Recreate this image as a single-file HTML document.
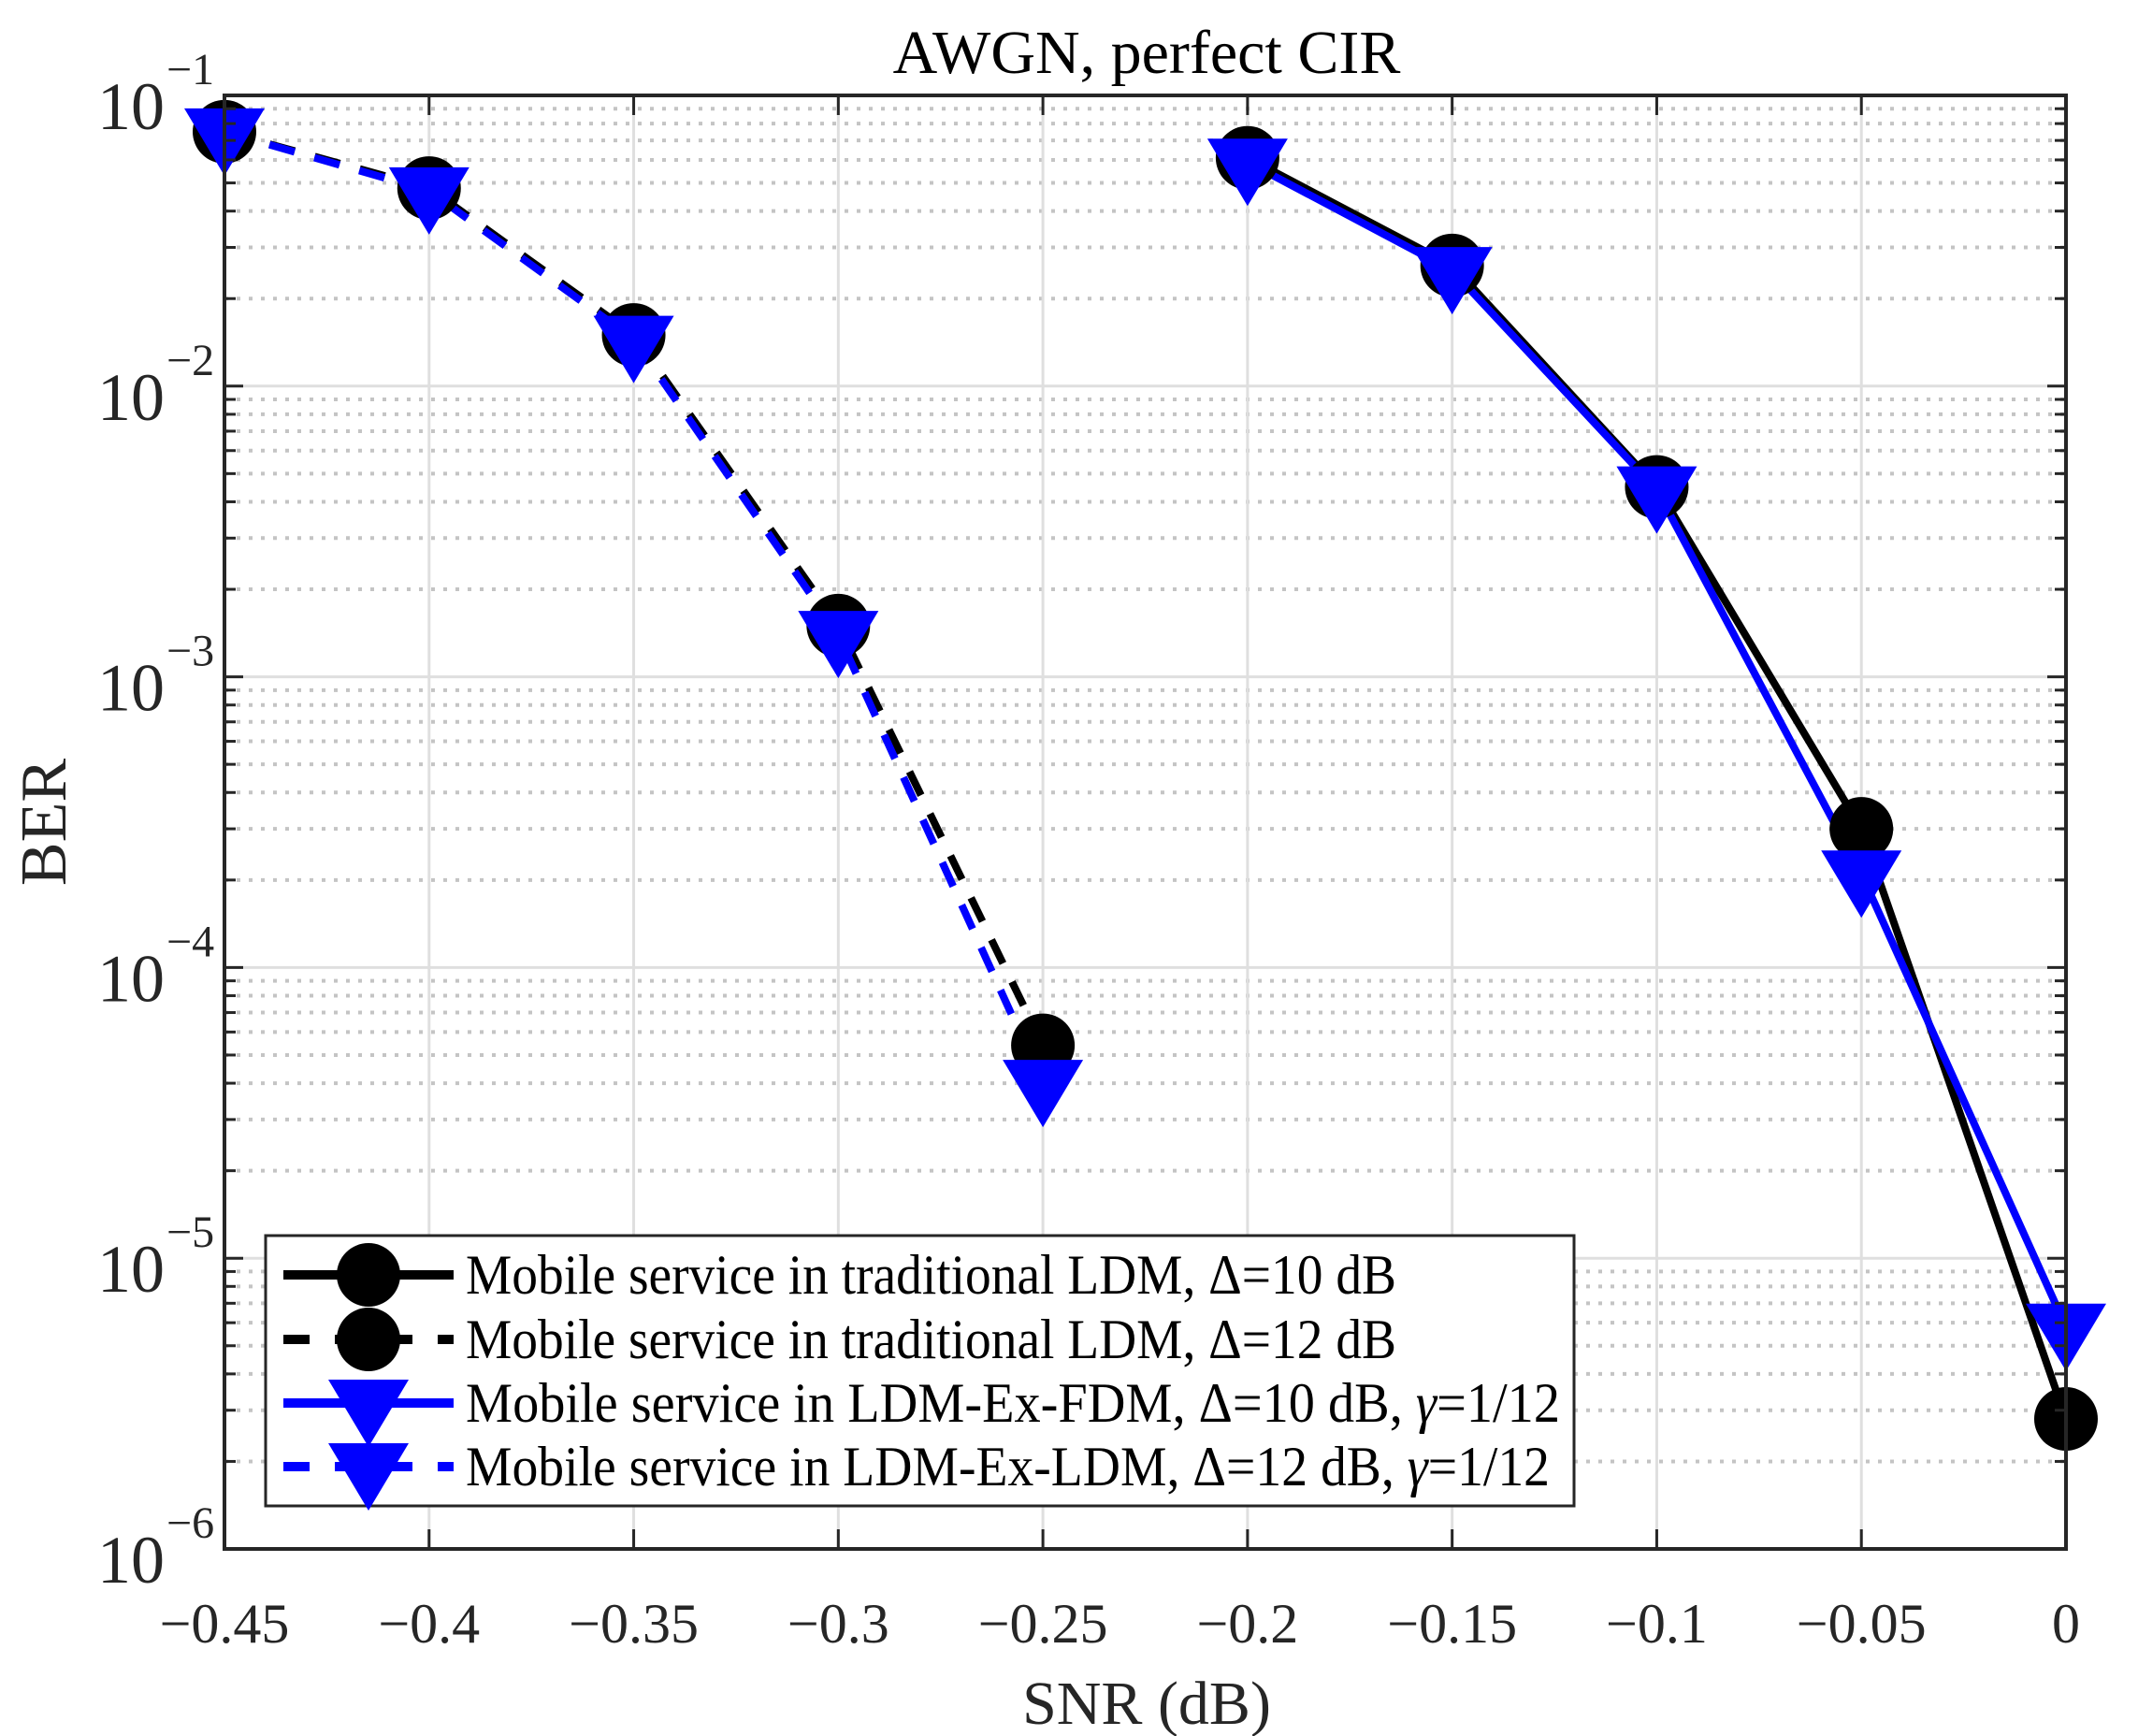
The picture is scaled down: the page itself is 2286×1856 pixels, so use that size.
<!DOCTYPE html>
<html><head><meta charset="utf-8"><style>
html,body{margin:0;padding:0;background:#fff;}
svg{display:block;font-family:"Liberation Serif",serif;}
</style></head><body>
<svg id="s" width="2286" height="1856" viewBox="0 0 2286 1856" xmlns="http://www.w3.org/2000/svg">
<rect width="2286" height="1856" fill="#fff"/>
<g id="grid"></g>
<g id="data"></g>
<g id="axes"></g>
<text x="1226" y="78" font-size="66" text-anchor="middle" fill="#000">AWGN, perfect CIR</text>
<text x="1226" y="1843" font-size="66" text-anchor="middle" fill="#262626">SNR (dB)</text>
<text transform="translate(70,879) rotate(-90)" font-size="70" text-anchor="middle" fill="#262626">BER</text>
<g id="legend">
<rect x="284" y="1321" width="1399" height="289" fill="#fff" stroke="#262626" stroke-width="3"/>
</g>
</svg>
<script>
const NS="http://www.w3.org/2000/svg";
const L=240,R=2209,T=102,B=1656,DEC=310.8,XS=(R-L)/9;
function el(p,t,a,txt){const e=document.createElementNS(NS,t);for(const k in a)e.setAttribute(k,a[k]);if(txt!==undefined)e.textContent=txt;p.appendChild(e);return e;}
const X=v=>L+(v+0.45)/0.05*XS;
const Y=v=>T-DEC*(1+Math.log10(v));
const g=document.getElementById('grid'),d=document.getElementById('data'),ax=document.getElementById('axes'),lg=document.getElementById('legend');
for(let k=-6;k<-1;k++){for(let m=2;m<=9;m++){const y=Y(m*Math.pow(10,k));
el(g,'line',{x1:L,x2:R,y1:y,y2:y,stroke:'#c4c4c4','stroke-width':4,'stroke-dasharray':'4 9'});
el(ax,'line',{x1:L,x2:L+12,y1:y,y2:y,stroke:'#262626','stroke-width':3});
el(ax,'line',{x1:R,x2:R-12,y1:y,y2:y,stroke:'#262626','stroke-width':3});}}
for(let k=-6;k<=-1;k++){const y=Y(Math.pow(10,k));
el(g,'line',{x1:L,x2:R,y1:y,y2:y,stroke:'#dfdfdf','stroke-width':3});
el(ax,'line',{x1:L,x2:L+20,y1:y,y2:y,stroke:'#262626','stroke-width':3});
el(ax,'line',{x1:R,x2:R-20,y1:y,y2:y,stroke:'#262626','stroke-width':3});
el(ax,'text',{x:176,y:y+36,'font-size':72,'text-anchor':'end',fill:'#262626'},'10');
el(ax,'text',{x:178,y:y-12,'font-size':48,fill:'#262626'},'\u2212'+(-k));}
for(let i=0;i<=9;i++){const x=L+i*XS;
el(g,'line',{x1:x,x2:x,y1:T,y2:B,stroke:'#dfdfdf','stroke-width':3});
el(ax,'line',{x1:x,x2:x,y1:B,y2:B-21,stroke:'#262626','stroke-width':3});
el(ax,'line',{x1:x,x2:x,y1:T,y2:T+21,stroke:'#262626','stroke-width':3});
const v=-0.45+i*0.05;let s=(Math.abs(v)<1e-9)?'0':'\u2212'+(Math.round(-v*100)/100).toString();
el(ax,'text',{x:x,y:1756,'font-size':60,'text-anchor':'middle',fill:'#262626'},s);}
el(ax,'rect',{x:L,y:T,width:R-L,height:B-T,fill:'none',stroke:'#262626','stroke-width':4});
const xs1=[-0.2,-0.15,-0.1,-0.05,0],xs2=[-0.45,-0.4,-0.35,-0.3,-0.25];
const S=[
{x:xs1,y:[0.061,0.026,0.0045,3.0e-4,2.8e-6],c:'#000',dash:null,m:'o'},
{x:xs2,y:[0.075,0.048,0.015,0.0015,5.4e-5],c:'#000',dash:'28 22',m:'o'},
{x:xs1,y:[0.059,0.025,0.0044,2.1e-4,5.8e-6],c:'#0000ff',dash:null,m:'v'},
{x:xs2,y:[0.075,0.047,0.0145,0.0014,4.0e-5],c:'#0000ff',dash:'28 22',m:'v'}];
function mk(p,m,x,y,c){if(m==='o')el(p,'ellipse',{cx:x,cy:y,rx:34,ry:34,fill:c});
else el(p,'polygon',{points:`${x-43},${y-25} ${x+43},${y-25} ${x},${y+47}`,fill:c});}
S.forEach(s=>{const pts=s.x.map((v,i)=>X(v)+','+Y(s.y[i])).join(' ');
const a={points:pts,fill:'none',stroke:s.c,'stroke-width':8,'stroke-linejoin':'round'};if(s.dash)a['stroke-dasharray']=s.dash;
el(d,'polyline',a);});
S.forEach(s=>{s.x.forEach((v,i)=>mk(d,s.m,X(v),Y(s.y[i]),s.c));});
const rows=[1363,1432,1500,1568];
const labels=[['Mobile service in traditional LDM, \u0394=10 dB',995],['Mobile service in traditional LDM, \u0394=12 dB',995],['Mobile service in LDM-Ex-FDM, \u0394=10 dB, ',1170],['Mobile service in LDM-Ex-LDM, \u0394=12 dB, ',1159]];
S.forEach((s,i)=>{const y=rows[i];const a={x1:303,x2:485,y1:y,y2:y,stroke:s.c,'stroke-width':10};if(s.dash)a['stroke-dasharray']='28 27';
el(lg,'line',a);mk(lg,s.m,394,y,s.c);
const t=el(lg,'text',{x:498,y:y+20,'font-size':60,fill:'#000',textLength:labels[i][1],lengthAdjust:'spacingAndGlyphs'});
t.appendChild(document.createTextNode(labels[i][0]));
if(i>=2){el(t,'tspan',{'font-style':'italic'},'\u03b3');el(t,'tspan',{},'=1/12');}});
</script>
</body></html>
